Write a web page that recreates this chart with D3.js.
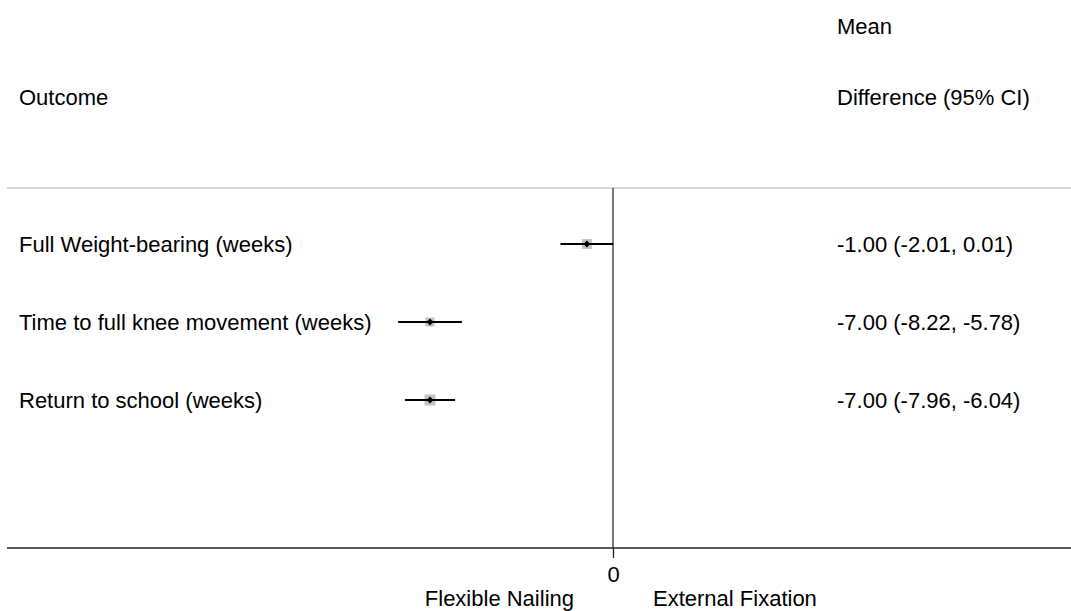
<!DOCTYPE html>
<html>
<head>
<meta charset="utf-8">
<script src="https://cdn.jsdelivr.net/npm/d3@7"></script>
<style>
  body { margin: 0; background: #fff; }
  text { font-family: "Liberation Sans", Arial, sans-serif; fill: #000; }
</style>
</head>
<body>
<div id="chart"></div>
<script>
const outcomes = ['Full Weight-bearing (weeks)', 'Time to full knee movement (weeks)', 'Return to school (weeks)'];
const meanDiff = [-1.00, -7.00, -7.00];
const lower = [-2.01, -8.22, -7.96];
const upper = [0.01, -5.78, -6.04];
const boxSize = [10, 9, 11];
const xTicks = [0];
const leftLabel = 'Flexible Nailing';
const rightLabel = 'External Fixation';

const width = 1071;
const height = 611;
const fontSize = 22;

const svg = d3.select('#chart').append('svg')
  .attr('width', width)
  .attr('height', height);

// 26.14 px per unit, zero sits at x = 613
const x = d3.scaleLinear().domain([-10, 10]).range([613 - 261.4, 613 + 261.4]);
const y = d3.scalePoint().domain(outcomes).range([244, 400]);

const plotTop = 188;
const plotBottom = 548;

// header
svg.append('text').attr('x', 19).attr('y', 97).attr('dy', '0.35em')
  .style('font-size', fontSize + 'px').text('Outcome');
svg.append('text').attr('x', 837).attr('y', 26).attr('dy', '0.35em')
  .style('font-size', fontSize + 'px').text('Mean');
svg.append('text').attr('x', 837).attr('y', 97).attr('dy', '0.35em')
  .style('font-size', fontSize + 'px').text('Difference (95% CI)');

// separator under header
svg.append('line')
  .attr('x1', 7).attr('x2', width)
  .attr('y1', plotTop).attr('y2', plotTop)
  .attr('stroke', '#c8c8c8').attr('stroke-width', 1.3);

// no-effect line
svg.append('line')
  .attr('x1', x(0)).attr('x2', x(0))
  .attr('y1', plotTop).attr('y2', plotBottom)
  .attr('stroke', '#333').attr('stroke-width', 1.3);

// x axis
const axis = svg.append('g')
  .attr('transform', `translate(0,${plotBottom})`)
  .call(d3.axisBottom(x).tickValues(xTicks).tickSize(10).tickPadding(8).tickFormat(d3.format('d')));
axis.select('.domain').remove();
axis.selectAll('.tick line').attr('stroke', '#222').attr('stroke-width', 1.3);
axis.selectAll('.tick text')
  .style('font-size', fontSize + 'px')
  .style('font-family', '"Liberation Sans", Arial, sans-serif');

svg.append('line')
  .attr('x1', 7).attr('x2', width)
  .attr('y1', plotBottom).attr('y2', plotBottom)
  .attr('stroke', '#222').attr('stroke-width', 1.6);

svg.append('text').attr('x', x(0) - 39).attr('y', 598).attr('dy', '0.35em')
  .attr('text-anchor', 'end').style('font-size', fontSize + 'px').text(leftLabel);
svg.append('text').attr('x', x(0) + 40).attr('y', 598).attr('dy', '0.35em')
  .style('font-size', fontSize + 'px').text(rightLabel);

const rows = outcomes.map((d, i) => ({
  name: d, est: meanDiff[i], lo: lower[i], hi: upper[i], box: boxSize[i]
}));

const g = svg.append('g');

g.selectAll('text.label').data(rows).enter().append('text')
  .attr('class', 'label')
  .attr('x', 19).attr('y', (d) => y(d.name)).attr('dy', '0.35em')
  .style('font-size', fontSize + 'px')
  .text((d) => d.name);

g.selectAll('text.value').data(rows).enter().append('text')
  .attr('class', 'value')
  .attr('x', 837).attr('y', (d) => y(d.name)).attr('dy', '0.35em')
  .style('font-size', fontSize + 'px')
  .text((d) => `${d.est.toFixed(2)} (${d.lo.toFixed(2)}, ${d.hi.toFixed(2)})`);

g.selectAll('rect.box').data(rows).enter().append('rect')
  .attr('class', 'box')
  .attr('x', (d) => x(d.est) - d.box / 2)
  .attr('y', (d) => y(d.name) - d.box / 2)
  .attr('width', (d) => d.box)
  .attr('height', (d) => d.box)
  .attr('fill', '#c4c4c4');

g.selectAll('line.ci').data(rows).enter().append('line')
  .attr('class', 'ci')
  .attr('x1', (d) => x(d.lo)).attr('x2', (d) => x(d.hi))
  .attr('y1', (d) => y(d.name)).attr('y2', (d) => y(d.name))
  .attr('stroke', '#000').attr('stroke-width', 1.8);

g.selectAll('path.est').data(rows).enter().append('path')
  .attr('class', 'est')
  .attr('transform', (d) => `translate(${x(d.est)},${y(d.name)})`)
  .attr('d', 'M0,-3.5L3.5,0L0,3.5L-3.5,0Z')
  .attr('fill', '#000');
</script>
</body>
</html>
